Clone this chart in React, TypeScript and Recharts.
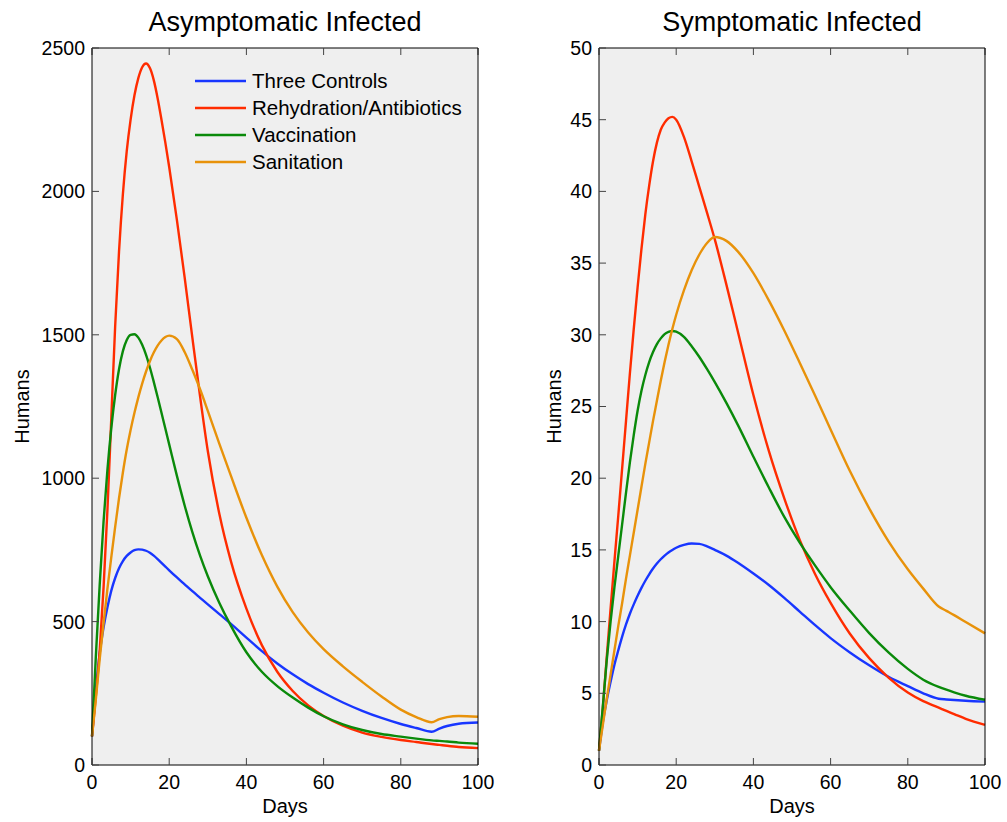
import { CartesianGrid, Legend, Line, LineChart, XAxis, YAxis } from 'recharts';

const days = [
  0, 1, 2, 3, 4, 5, 6, 7, 8, 9, 10, 11, 12, 13, 14, 15, 16, 17, 18, 19, 20, 22, 24, 26, 28, 30, 33, 36,
  40, 44, 48, 52, 56, 60, 65, 70, 75, 80, 84, 88, 90, 92, 95, 100
];

const seriesNames = ['Three Controls', 'Rehydration/Antibiotics', 'Vaccination', 'Sanitation'];
const seriesKeys = ['three', 'rehyd', 'vacc', 'sanit'];
const seriesColors = ['#1836ff', '#ff2c00', '#0a8a0a', '#e8920a'];

// asymptomatic infected humans
const asymThree = [
  100, 260, 390, 480, 550, 608, 652, 686, 711, 729, 741, 749, 752, 751, 747, 740, 730, 718, 705, 692,
  679, 654, 630, 606, 583, 560, 526, 492, 444, 397, 354, 316, 282, 252, 218, 189, 164, 143, 129, 116,
  127, 136, 144, 148
];
const asymRehyd = [
  100, 240, 400, 620, 890, 1210, 1530, 1790, 1990, 2140, 2250, 2335, 2395, 2433, 2446, 2430, 2388,
  2325, 2250, 2170, 2085, 1900, 1700, 1490, 1285, 1095, 875, 710, 545, 418, 325, 258, 208, 171, 137,
  113, 98, 87, 80, 73, 70, 67, 63, 59
];
const asymVacc = [
  100, 380, 630, 850, 1030, 1175, 1290, 1380, 1443, 1482, 1500, 1502, 1490, 1465, 1430, 1386, 1336,
  1283, 1228, 1173, 1118, 1008, 905, 812, 730, 658, 565, 485, 393, 325, 275, 235, 200, 170, 142, 122,
  108, 99, 92, 86, 84, 82, 78, 74
];
const asymSanit = [
  100, 230, 370, 495, 615, 725, 830, 930, 1020, 1100, 1168, 1228, 1282, 1330, 1372, 1408, 1438, 1462,
  1480, 1492, 1497, 1485, 1440, 1378, 1310, 1235, 1120, 1008, 862, 732, 622, 533, 462, 404, 344, 290,
  239, 193, 167, 149, 160, 167, 171, 168
];

// symptomatic infected humans
const symThree = [
  1, 3.0, 4.5, 5.8, 7.0, 8.0, 8.95, 9.8, 10.55, 11.2, 11.8, 12.35, 12.85, 13.3, 13.7, 14.05, 14.35,
  14.6, 14.82, 15.0, 15.15, 15.35, 15.45, 15.42, 15.25, 15.0, 14.6, 14.1, 13.35, 12.55, 11.65, 10.7,
  9.75, 8.85, 7.85, 6.95, 6.15, 5.5, 5.0, 4.62, 4.57, 4.53, 4.48, 4.42
];
const symRehyd = [
  1, 4.0, 7.5, 10.9, 14.2, 17.4, 20.7, 24.0, 27.3, 30.4, 33.3, 36.0, 38.4, 40.4, 42.1, 43.4, 44.3,
  44.8, 45.1, 45.2, 45.0, 43.8, 42.1, 40.3, 38.5, 36.65, 33.5, 30.2, 25.8, 21.9, 18.6, 15.7, 13.3,
  11.3, 9.15, 7.45, 6.1, 5.05, 4.45, 4.0, 3.77, 3.55, 3.22, 2.8
];
const symVacc = [
  1, 4.1, 7.3, 10.0, 12.4, 14.6, 16.8, 19.0, 21.1, 23.0, 24.7, 26.1, 27.2, 28.1, 28.8, 29.35, 29.75,
  30.05, 30.2, 30.27, 30.22, 29.85, 29.2, 28.45, 27.6, 26.7, 25.25, 23.7, 21.5, 19.35, 17.3, 15.5,
  13.9, 12.4, 10.75, 9.2, 7.85, 6.7, 5.95, 5.45, 5.25, 5.07, 4.83, 4.55
];
const symSanit = [
  1, 2.8, 4.6, 6.3, 8.0, 9.7, 11.3, 13.0, 14.6, 16.2, 17.8, 19.4, 21.0, 22.5, 24.0, 25.4, 26.8, 28.1,
  29.3, 30.4, 31.4, 33.1, 34.5, 35.6, 36.4, 36.82, 36.55, 35.8, 34.3, 32.4, 30.3, 28.05, 25.75, 23.4,
  20.5, 17.9, 15.6, 13.65, 12.3, 11.05, 10.75, 10.45, 9.97, 9.18
];

const dayTicks = [0, 20, 40, 60, 80, 100];
const asymTicks = [0, 500, 1000, 1500, 2000, 2500];
const symTicks = [0, 5, 10, 15, 20, 25, 30, 35, 40, 45, 50];

const buildRows = (three: number[], rehyd: number[], vacc: number[], sanit: number[]) =>
  days.map((day, i) => ({ day, three: three[i], rehyd: rehyd[i], vacc: vacc[i], sanit: sanit[i] }));

const asymRows = buildRows(asymThree, asymRehyd, asymVacc, asymSanit);
const symRows = buildRows(symThree, symRehyd, symVacc, symSanit);

const FONT = '"Liberation Sans", Arial, Helvetica, sans-serif';
const tickStyle = { fontSize: 19.5, fill: '#000' };
const tickLineStyle = { stroke: '#444' };

function LegendBox() {
  return (
    <div style={{ fontFamily: FONT, fontSize: 20.5, color: '#000' }}>
      {seriesNames.map((name, i) => (
        <div key={name} style={{ display: 'flex', alignItems: 'center', height: 27 }}>
          <svg width={51} height={4} style={{ display: 'block' }}>
            <line x1={0} y1={2} x2={51} y2={2} stroke={seriesColors[i]} strokeWidth={2.4} />
          </svg>
          <span style={{ marginLeft: 6, whiteSpace: 'nowrap' }}>{name}</span>
        </div>
      ))}
    </div>
  );
}

type PanelProps = {
  title: string;
  rows: Array<Record<string, number>>;
  yMax: number;
  yTicks: number[];
  humansOffset: number;
  legend?: boolean;
};

// 500px wide panel: plot box spans x 92..478, y 48..765
function Panel({ title, rows, yMax, yTicks, humansOffset, legend }: PanelProps) {
  return (
    <LineChart
      width={500}
      height={822}
      data={rows}
      margin={{ top: 47, right: 21, bottom: 0, left: 0 }}
      style={{ fontFamily: FONT }}
    >
      <CartesianGrid fill='#efefef' horizontal={false} vertical={false} />
      <XAxis
        type='number'
        dataKey='day'
        domain={[0, 100]}
        ticks={dayTicks}
        height={57}
        stroke='#000'
        tick={tickStyle}
        tickLine={tickLineStyle}
        tickSize={-7}
        tickMargin={17}
        label={{ value: 'Days', position: 'insideBottom', offset: 9, fontSize: 20, fill: '#000' }}
      />
      <XAxis
        xAxisId='top'
        orientation='top'
        type='number'
        dataKey='day'
        domain={[0, 100]}
        ticks={dayTicks}
        height={1}
        stroke='#000'
        tickLine={tickLineStyle}
        tickSize={-7}
        tickFormatter={() => ''}
        label={{ value: title, position: 'top', offset: 16, fontSize: 27, fill: '#000' }}
      />
      <YAxis
        type='number'
        domain={[0, yMax]}
        ticks={yTicks}
        width={92}
        stroke='#000'
        tick={tickStyle}
        tickLine={tickLineStyle}
        tickSize={-7}
        tickMargin={14}
        label={{
          value: 'Humans',
          angle: -90,
          position: 'insideLeft',
          offset: humansOffset,
          fontSize: 20,
          fill: '#000',
          style: { textAnchor: 'middle' }
        }}
      />
      <YAxis
        yAxisId='right'
        orientation='right'
        type='number'
        domain={[0, yMax]}
        ticks={yTicks}
        width={1}
        stroke='#000'
        tickLine={tickLineStyle}
        tickSize={-7}
        tickFormatter={() => ''}
      />
      {legend && (
        <Legend
          layout='vertical'
          align='center'
          verticalAlign='middle'
          wrapperStyle={{ left: 195, top: 67, width: 'auto', height: 'auto' }}
          content={() => <LegendBox />}
        />
      )}
      {seriesKeys.map((key, i) => (
        <Line
          key={key}
          type='monotone'
          dataKey={key}
          name={seriesNames[i]}
          stroke={seriesColors[i]}
          strokeWidth={2.4}
          dot={false}
          isAnimationActive={false}
        />
      ))}
    </LineChart>
  );
}

export default function App() {
  return (
    <div
      style={{
        position: 'absolute',
        left: 0,
        top: 0,
        width: 1007,
        height: 822,
        background: '#fff',
        overflow: 'hidden'
      }}
    >
      <div style={{ position: 'absolute', left: 0, top: 0 }}>
        <Panel
          title='Asymptomatic Infected'
          rows={asymRows}
          yMax={2500}
          yTicks={asymTicks}
          humansOffset={22}
          legend
        />
      </div>
      <div style={{ position: 'absolute', left: 507, top: 0 }}>
        <Panel
          title='Symptomatic Infected'
          rows={symRows}
          yMax={50}
          yTicks={symTicks}
          humansOffset={47}
        />
      </div>
    </div>
  );
}
